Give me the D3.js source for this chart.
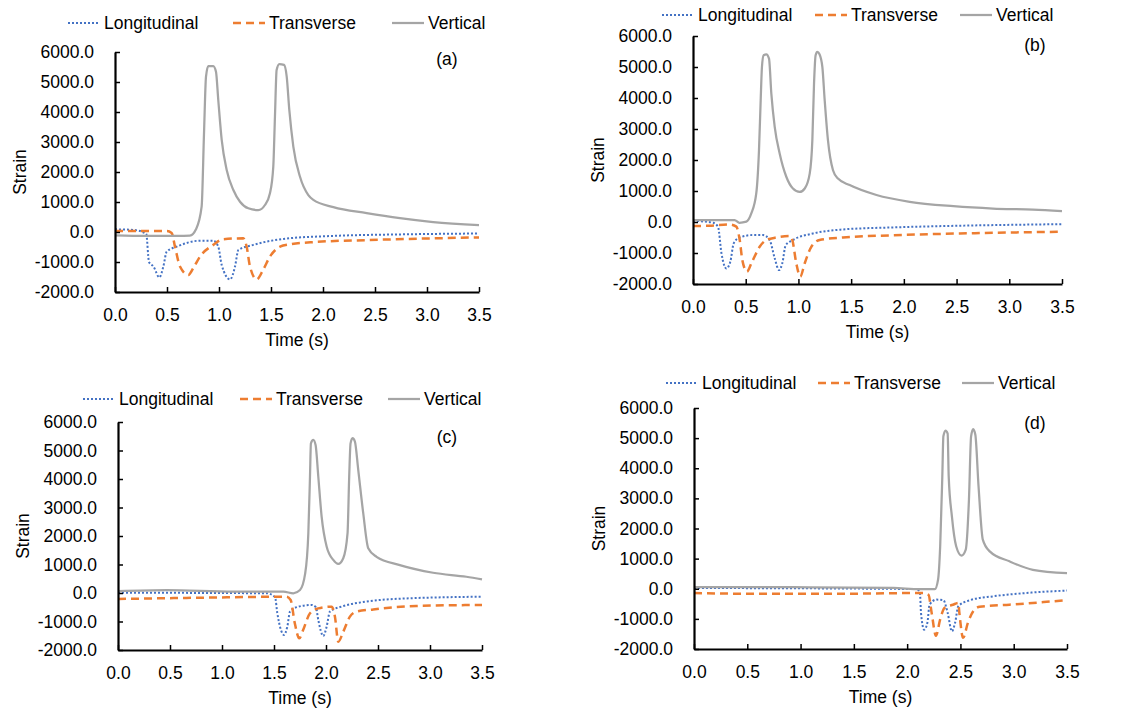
<!DOCTYPE html>
<html>
<head>
<meta charset="utf-8">
<script src="https://cdn.jsdelivr.net/npm/d3@7"></script>
<style>
  body { margin: 0; background: #fff; }
  svg { display: block; }
  text { font-family: "Liberation Sans", Arial, sans-serif; fill: #000; }
</style>
</head>
<body>
<svg id="chart" width="1135" height="710"></svg>
<script>
// series names + tick values
var seriesNames = ["Longitudinal", "Transverse", "Vertical"];
var xTicks = [0, 0.5, 1, 1.5, 2, 2.5, 3, 3.5];
var yTicks = [-2000, -1000, 0, 1000, 2000, 3000, 4000, 5000, 6000];
var panelLabels = ["(a)", "(b)", "(c)", "(d)"];

// [time (s), strain]
var longA = [[0,90],[0.18,67],[0.3,-60],[0.327,-1000],[0.37,-1150],[0.426,-1510],[0.465,-1150],[0.497,-655],[0.593,-490],[0.817,-290],[0.945,-290],[0.993,-490],[1.026,-1100],[1.106,-1580],[1.154,-1150],[1.186,-600],[1.33,-430],[1.62,-230],[2.1,-130],[2.74,-80],[3.5,-50]];
var transA = [[0,30],[0.5,30],[0.545,-30],[0.577,-490],[0.625,-1150],[0.705,-1430],[0.753,-1200],[0.817,-820],[0.945,-430],[1.04,-240],[1.234,-210],[1.266,-490],[1.298,-1150],[1.362,-1580],[1.426,-1250],[1.49,-820],[1.587,-490],[1.683,-410],[1.94,-330],[2.42,-270],[3.5,-180]];
var vertA = [[0,-110],[0.3,-130],[0.6,-130],[0.72,-120],[0.78,100],[0.833,845],[0.856,3300],[0.875,5180],[0.897,5530],[0.945,5530],[0.971,5340],[0.993,4400],[1.026,3070],[1.074,2070],[1.138,1400],[1.202,1010],[1.282,790],[1.378,730],[1.442,900],[1.49,1290],[1.522,2180],[1.538,3840],[1.554,5400],[1.58,5600],[1.625,5570],[1.651,5180],[1.676,4070],[1.715,2840],[1.779,1840],[1.859,1230],[1.907,1070],[2.1,830],[2.42,630],[2.74,460],[3.06,330],[3.5,230]];

var longB = [[0,40],[0.19,-25],[0.237,-150],[0.27,-1010],[0.316,-1500],[0.354,-1280],[0.386,-690],[0.443,-500],[0.569,-420],[0.664,-420],[0.727,-580],[0.775,-1170],[0.816,-1550],[0.847,-1330],[0.879,-750],[0.948,-580],[1.138,-370],[1.423,-240],[1.897,-175],[2.53,-120],[3.5,-70]];
var transB = [[0,-130],[0.158,-120],[0.348,-80],[0.411,-150],[0.443,-580],[0.468,-1230],[0.512,-1600],[0.553,-1340],[0.632,-800],[0.696,-580],[0.79,-500],[0.917,-450],[0.942,-580],[0.98,-1340],[1.018,-1760],[1.059,-1340],[1.122,-800],[1.201,-580],[1.423,-500],[1.897,-430],[2.53,-370],[3.5,-315]];
var vertB = [[0,60],[0.395,60],[0.44,-25],[0.506,10],[0.553,275],[0.6,920],[0.626,2320],[0.642,3930],[0.654,5000],[0.67,5380],[0.696,5410],[0.721,5270],[0.743,4140],[0.775,3070],[0.822,2210],[0.885,1460],[0.948,1080],[1.012,970],[1.06,1080],[1.107,1560],[1.132,2640],[1.148,4470],[1.163,5380],[1.179,5490],[1.2,5410],[1.227,5000],[1.249,3930],[1.28,2640],[1.328,1670],[1.375,1400],[1.486,1190],[1.74,870],[2.055,650],[2.47,510],[2.845,435],[3.225,400],[3.5,350]];

var longC = [[0,10],[1.43,-10],[1.51,-150],[1.532,-710],[1.567,-1300],[1.596,-1470],[1.628,-1180],[1.654,-650],[1.734,-480],[1.862,-420],[1.903,-500],[1.926,-950],[1.974,-1510],[2.006,-1180],[2.038,-650],[2.166,-460],[2.39,-300],[2.71,-200],[3.5,-130]];
var transC = [[0,-210],[0.79,-165],[1.62,-130],[1.66,-245],[1.7,-1060],[1.743,-1590],[1.78,-1300],[1.846,-710],[1.926,-540],[2.054,-480],[2.086,-830],[2.118,-1710],[2.166,-1360],[2.23,-830],[2.294,-655],[2.454,-575],[2.87,-455],[3.5,-420]];
var vertC = [[0,70],[0.47,105],[1.11,47],[1.59,47],[1.686,-10],[1.75,105],[1.8,690],[1.83,2090],[1.846,4080],[1.855,5250],[1.878,5370],[1.9,5190],[1.926,4080],[1.958,2680],[2.006,1630],[2.07,1160],[2.118,1020],[2.166,1220],[2.207,2090],[2.223,4080],[2.236,5250],[2.255,5430],[2.278,5310],[2.31,4320],[2.358,2800],[2.406,1570],[2.486,1270],[2.71,980],[3.03,710],[3.35,570],[3.5,480]];

var longD = [[0,25],[2.09,-10],[2.12,-140],[2.13,-800],[2.16,-1360],[2.19,-1130],[2.21,-530],[2.275,-360],[2.34,-380],[2.38,-800],[2.42,-1410],[2.45,-1130],[2.48,-580],[2.59,-380],[2.81,-250],[3.12,-140],[3.5,-60]];
var transD = [[0,-140],[0.62,-170],[1.24,-170],[2.15,-140],[2.2,-200],[2.23,-800],[2.27,-1560],[2.31,-1020],[2.35,-640],[2.43,-530],[2.48,-470],[2.49,-800],[2.525,-1630],[2.57,-1130],[2.62,-750],[2.68,-600],[2.96,-530],[3.5,-380]];
var vertD = [[0,50],[0.93,50],[1.87,25],[2.12,-10],[2.26,-10],[2.29,300],[2.31,1410],[2.33,3730],[2.34,5060],[2.36,5250],[2.38,5150],[2.39,3730],[2.42,2400],[2.46,1410],[2.51,1100],[2.55,1300],[2.58,2960],[2.6,5060],[2.62,5300],[2.64,5110],[2.67,3400],[2.71,1630],[2.775,1240],[2.96,910],[3.18,630],[3.5,520]];

var panelData = [
    [longA, transA, vertA],
    [longB, transB, vertB],
    [longC, transC, vertC],
    [longD, transD, vertD]
];

// plot frames, legend and label spots (pixels)
var frames = [
    { x0: 115, x1: 479, y0: 52, y1: 292, legY: 23, leg: [68, 233, 392], lab: [447, 59] },
    { x0: 693, x1: 1062, y0: 36, y1: 284, legY: 15, leg: [662, 815, 960], lab: [1035, 45] },
    { x0: 118, x1: 482, y0: 422, y1: 650, legY: 399, leg: [83, 240, 388], lab: [447, 437] },
    { x0: 694, x1: 1067, y0: 408, y1: 649, legY: 383, leg: [666, 818, 962], lab: [1035, 423] }
];

var styles = [
    { color: "#4472C4", width: 2, dash: "2,2" },
    { color: "#ED7D31", width: 2.5, dash: "8,5" },
    { color: "#A5A5A5", width: 2.25, dash: null }
];

var fontSize = 17.5;
var fmt = function(d) { return d.toFixed(1); };   // plain hyphen for negatives
var svg = d3.select("#chart");

frames.forEach(function(f, i) {
    var g = svg.append("g");

    var x = d3.scaleLinear().domain([0, 3.5]).range([f.x0, f.x1]);
    var y = d3.scaleLinear().domain([-2000, 6000]).range([f.y1, f.y0]);

    var line = d3.line()
        .x(function(d) { return x(d[0]); })
        .y(function(d) { return y(d[1]); })
        .curve(d3.curveMonotoneX);

    // series
    panelData[i].forEach(function(s, k) {
        g.append("path")
            .datum(s)
            .attr("d", line)
            .attr("fill", "none")
            .attr("stroke", styles[k].color)
            .attr("stroke-width", styles[k].width)
            .attr("stroke-dasharray", styles[k].dash)
            .attr("stroke-linejoin", "round");
    });

    // x axis, ticks pointing inward
    var xAxis = g.append("g")
        .attr("transform", "translate(0," + f.y1 + ")")
        .call(d3.axisBottom(x).tickValues(xTicks).tickSizeInner(-5).tickSizeOuter(0).tickFormat(fmt));
    xAxis.select(".domain").attr("stroke", "#000").attr("stroke-width", 2.2);
    xAxis.selectAll(".tick line").attr("stroke", "#000").attr("stroke-width", 1.5);
    xAxis.selectAll(".tick text")
        .attr("y", 23).attr("dy", "0.35em")
        .style("font-size", fontSize + "px").style("font-family", "Liberation Sans, Arial, sans-serif");

    // y axis
    var yAxis = g.append("g")
        .attr("transform", "translate(" + f.x0 + ",0)")
        .call(d3.axisLeft(y).tickValues(yTicks).tickSizeInner(-5).tickSizeOuter(0).tickFormat(fmt));
    yAxis.select(".domain").attr("stroke", "#000").attr("stroke-width", 2.2);
    yAxis.selectAll(".tick line").attr("stroke", "#000").attr("stroke-width", 1.5);
    yAxis.selectAll(".tick text")
        .attr("x", -21)
        .style("font-size", fontSize + "px").style("font-family", "Liberation Sans, Arial, sans-serif");

    // axis titles
    g.append("text")
        .attr("x", (f.x0 + f.x1) / 2).attr("y", f.y1 + 48)
        .attr("dy", "0.35em").attr("text-anchor", "middle")
        .style("font-size", fontSize + "px")
        .text("Time (s)");

    g.append("text")
        .attr("transform", "translate(" + (f.x0 - 95) + "," + ((f.y0 + f.y1) / 2) + ") rotate(-90)")
        .attr("dy", "0.35em").attr("text-anchor", "middle")
        .style("font-size", fontSize + "px")
        .text("Strain");

    // panel label
    g.append("text")
        .attr("x", f.lab[0]).attr("y", f.lab[1])
        .attr("dy", "0.35em").attr("text-anchor", "middle")
        .style("font-size", fontSize + "px")
        .text(panelLabels[i]);

    // legend
    seriesNames.forEach(function(name, k) {
        var lx = f.leg[k];
        g.append("line")
            .attr("x1", lx).attr("x2", lx + 32)
            .attr("y1", f.legY).attr("y2", f.legY)
            .attr("stroke", styles[k].color)
            .attr("stroke-width", styles[k].width)
            .attr("stroke-dasharray", styles[k].dash);
        g.append("text")
            .attr("x", lx + 36).attr("y", f.legY)
            .attr("dy", "0.35em")
            .style("font-size", fontSize + "px")
            .text(name);
    });
});
</script>
</body>
</html>
